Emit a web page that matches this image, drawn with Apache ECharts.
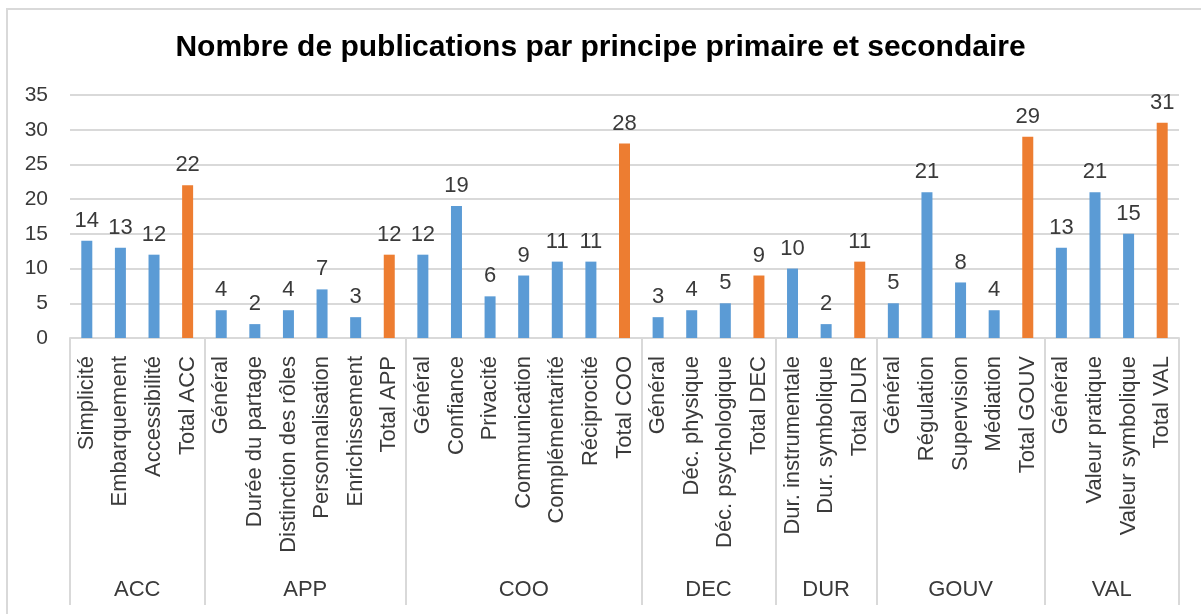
<!DOCTYPE html>
<html>
<head>
<meta charset="utf-8">
<script src="https://cdn.jsdelivr.net/npm/echarts@6/dist/echarts.min.js"></script>
<style>
  html, body { margin: 0; padding: 0; overflow: hidden; background: #fff; }
  #chart { width: 1201px; height: 614px; }
  .frame {
    position: absolute; left: 6px; top: 8px; width: 1400px; height: 800px;
    border: 2px solid #d9d9d9; pointer-events: none;
  }
</style>
</head>
<body>
<div id="chart"></div>
<div class="frame"></div>
<script>
const categories = [
  "Simplicité", "Embarquement", "Accessibilité", "Total ACC",
  "Général", "Durée du partage", "Distinction des rôles", "Personnalisation", "Enrichissement", "Total APP",
  "Général", "Confiance", "Privacité", "Communication", "Complémentarité", "Réciprocité", "Total COO",
  "Général", "Déc. physique", "Déc. psychologique", "Total DEC",
  "Dur. instrumentale", "Dur. symbolique", "Total DUR",
  "Général", "Régulation", "Supervision", "Médiation", "Total GOUV",
  "Général", "Valeur pratique", "Valeur symbolique", "Total VAL",
];
const values = [
  14, 13, 12, 22,
  4, 2, 4, 7, 3, 12,
  12, 19, 6, 9, 11, 11, 28,
  3, 4, 5, 9,
  10, 2, 11,
  5, 21, 8, 4, 29,
  13, 21, 15, 31,
];
const groups = ["ACC", "APP", "COO", "DEC", "DUR", "GOUV", "VAL"];
const groupSizes = [4, 6, 7, 4, 3, 5, 4];
const yTicks = [0, 5, 10, 15, 20, 25, 30, 35];

const BLUE = "#5B9BD5";
const ORANGE = "#ED7D31";
const TEXT = "#3a3a3a";
const GRID = "#D9D9D9";
const FONT = "Liberation Sans, Arial, sans-serif";

// group boundaries and centres on a 0..N value scale
const bounds = [0];
groupSizes.forEach((n) => bounds.push(bounds[bounds.length - 1] + n));
const centres = groups.map((g, i) => (bounds[i] + bounds[i + 1]) / 2);

const chart = echarts.init(document.getElementById("chart"));
chart.setOption({
  animation: false,
  textStyle: { fontFamily: FONT },
  title: {
    text: "Nombre de publications par principe primaire et secondaire",
    left: "center",
    top: 28,
    textStyle: { fontFamily: FONT, fontSize: 30, fontWeight: "bold", color: "#000" },
  },
  grid: { left: 70, right: 22, top: 95, bottom: 276 },
  xAxis: [
    {
      type: "category",
      data: categories,
      axisLine: { lineStyle: { color: GRID, width: 2 } },
      axisTick: { show: false },
      axisLabel: {
        interval: 0,
        rotate: 90,
        margin: 18,
        fontSize: 22,
        color: TEXT,
        fontFamily: FONT,
      },
    },
    {
      type: "value",
      min: 0,
      max: categories.length,
      position: "bottom",
      axisLine: { show: false },
      splitLine: { show: false },
      axisTick: {
        show: true,
        customValues: bounds,
        length: 267,
        lineStyle: { color: GRID, width: 2 },
      },
      axisLabel: {
        customValues: centres,
        margin: 241,
        fontSize: 22,
        color: TEXT,
        fontFamily: FONT,
        formatter: (v) => groups[centres.indexOf(v)] || "",
      },
    },
  ],
  yAxis: {
    type: "value",
    min: 0,
    max: 35,
    interval: 5,
    axisLine: { show: false },
    axisTick: { show: false },
    splitLine: { lineStyle: { color: GRID, width: 2 } },
    axisLabel: {
      margin: 22,
      fontSize: 21,
      color: TEXT,
      fontFamily: FONT,
      formatter: (v) => (yTicks.includes(v) ? String(v) : ""),
    },
  },
  series: [
    {
      type: "bar",
      xAxisIndex: 0,
      barWidth: 11,
      data: values.map((v, i) => ({
        value: v,
        itemStyle: { color: categories[i].startsWith("Total") ? ORANGE : BLUE },
      })),
      label: {
        show: true,
        position: "top",
        distance: 9,
        fontSize: 22,
        color: TEXT,
        fontFamily: FONT,
      },
    },
  ],
});
</script>
</body>
</html>
